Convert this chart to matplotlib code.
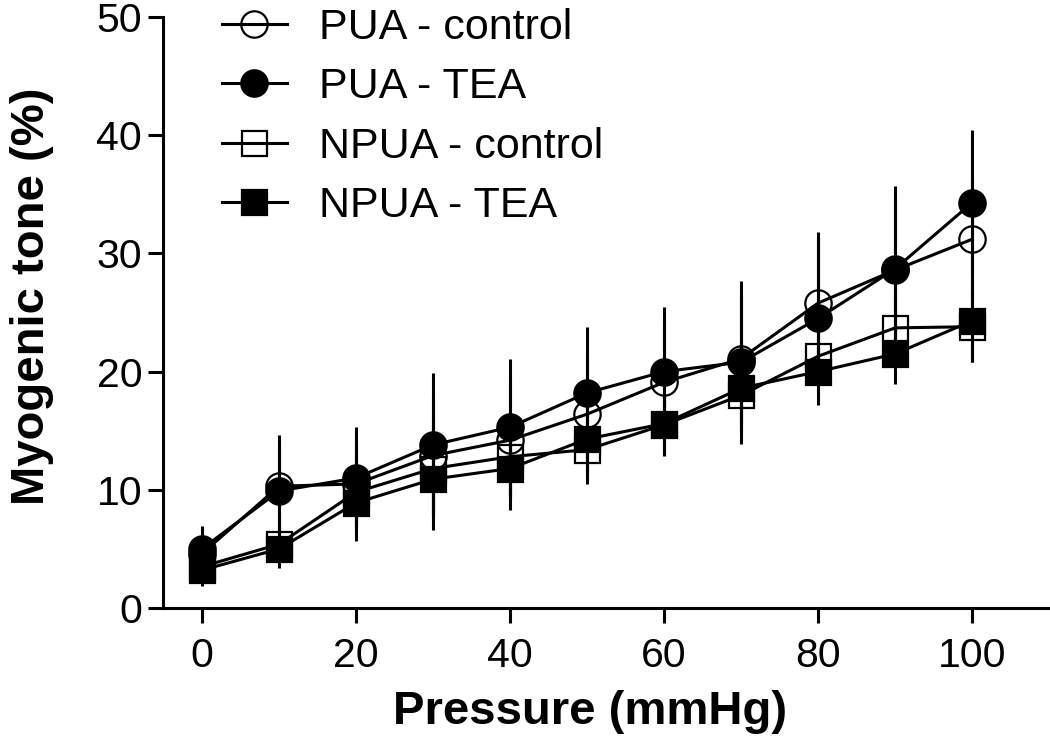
import matplotlib
matplotlib.use("Agg")
import matplotlib.pyplot as plt

pressure = [0, 10, 20, 30, 40, 50, 60, 70, 80, 90, 100]

pua_control = [4.6, 10.3, 10.5, 12.9, 14.2, 16.4, 19.1, 21.1, 25.8, 28.6, 31.2]
pua_control_err = [1.5, 3.5, 3.5, 5.0, 5.0, 5.0, 5.0, 5.5, 5.5, 6.0, 5.0]

pua_tea = [5.0, 9.9, 11.0, 13.8, 15.3, 18.2, 20.0, 20.8, 24.5, 28.7, 34.3]
pua_tea_err = [1.9, 4.7, 4.3, 6.1, 5.8, 5.6, 5.5, 6.9, 7.3, 7.0, 6.1]

npua_control = [3.5, 5.4, 9.8, 11.8, 12.8, 13.4, 15.5, 18.0, 21.3, 23.7, 23.8]
npua_control_err = [1.2, 1.5, 3.0, 4.0, 3.5, 2.5, 2.5, 3.0, 2.5, 2.5, 3.0]

npua_tea = [3.2, 5.0, 8.9, 10.9, 11.8, 14.3, 15.6, 18.6, 20.0, 21.5, 24.3]
npua_tea_err = [1.3, 1.6, 3.2, 4.3, 3.5, 3.8, 2.7, 4.0, 2.1, 2.55, 3.5]

labels = ["PUA - control", "PUA - TEA", "NPUA - control", "NPUA - TEA"]
x_ticks = [0, 20, 40, 60, 80, 100]
y_ticks = [0, 10, 20, 30, 40, 50]

plt.rcParams['font.family'] = ['Liberation Sans', 'DejaVu Sans']

W, H = 1050, 745
fig = plt.figure(figsize=(W / 100, H / 100), dpi=100)
ax = fig.add_axes([163 / W, (H - 608) / H, (W - 163) / W, (608 - 17) / H])

series = [
    (pua_control, pua_control_err, 'o', 'none'),
    (pua_tea, pua_tea_err, 'o', 'black'),
    (npua_control, npua_control_err, 's', 'none'),
    (npua_tea, npua_tea_err, 's', 'black'),
]

handles = []
for (vals, errs, mk, fc), lab in zip(series, labels):
    ax.errorbar(pressure, vals, yerr=errs, fmt='none', ecolor='black',
                elinewidth=2.2, capsize=0, zorder=2)
    h, = ax.plot(pressure, vals, color='black', lw=2.2, marker=mk,
                 markersize=19 if mk == 'o' else 18, markerfacecolor=fc,
                 markeredgecolor='black', markeredgewidth=1.6, label=lab, zorder=3)
    handles.append(h)

ax.set_xlim(-5.06, 110.1)
ax.set_ylim(0, 50)
ax.set_xticks(x_ticks)
ax.set_yticks(y_ticks)
ax.spines['top'].set_visible(False)
ax.spines['right'].set_visible(False)
for s in ('left', 'bottom'):
    ax.spines[s].set_linewidth(2.2)
ax.tick_params(axis='both', direction='out', length=11, width=2.2,
               labelsize=29.5, colors='black')
ax.tick_params(axis='x', pad=10)
ax.tick_params(axis='y', pad=4)

ax.set_xlabel("Pressure (mmHg)", fontsize=34, fontweight='bold')
ax.set_ylabel("Myogenic tone (%)", fontsize=34, fontweight='bold')
ax.xaxis.set_label_coords((590 - 163) / (W - 163), -(690 - 608) / (608 - 17))
ax.yaxis.set_label_coords(-(163 - 54) / (W - 163), (608 - 296) / (608 - 17))

leg = ax.legend(handles=handles, labels=labels, loc='upper left',
                bbox_to_anchor=(222 / W, 1 - 8 / H), bbox_transform=fig.transFigure,
                frameon=False, fontsize=31, handlelength=1.5, handletextpad=0.75,
                labelspacing=0.45, borderpad=0, borderaxespad=0)

fig.savefig("out.png", dpi=100)
